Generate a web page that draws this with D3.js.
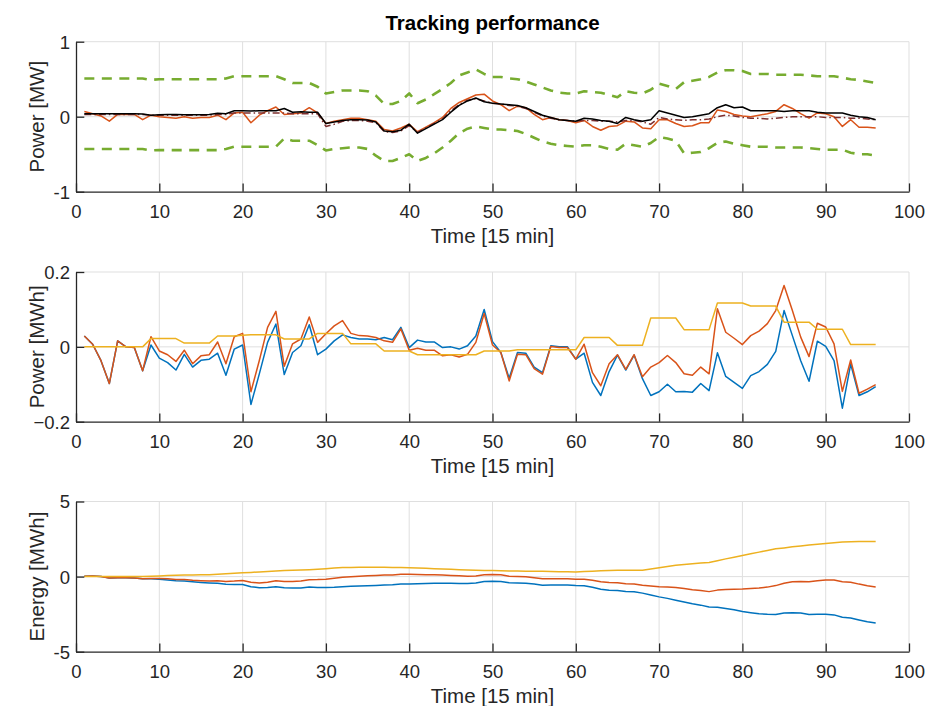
<!DOCTYPE html>
<html>
<head>
<meta charset="utf-8">
<script src="https://cdnjs.cloudflare.com/ajax/libs/d3/7.8.5/d3.min.js"></script>
<style>
  html, body { margin: 0; padding: 0; background: #fff; }
  svg { display: block; font-family: "Liberation Sans", Arial, Helvetica, sans-serif; }
</style>
</head>
<body>
<svg id="chart" width="927" height="706"></svg>
<script>
// Time steps (15-minute intervals)
const steps = d3.range(1, 97);
const xTicks = d3.range(0, 101, 10);

// Top panel: power tracking [MW]
const powerUpper = [
  0.51, 0.51, 0.51, 0.51, 0.51, 0.51, 0.51, 0.51, 0.49, 0.50,
  0.50, 0.50, 0.50, 0.50, 0.50, 0.50, 0.50, 0.51, 0.54, 0.54,
  0.54, 0.54, 0.54, 0.54, 0.50, 0.45, 0.45, 0.45, 0.40, 0.31,
  0.33, 0.35, 0.35, 0.35, 0.34, 0.28, 0.17, 0.17, 0.21, 0.31,
  0.18, 0.23, 0.30, 0.37, 0.45, 0.55, 0.59, 0.63, 0.57, 0.53,
  0.53, 0.51, 0.50, 0.47, 0.43, 0.39, 0.35, 0.32, 0.31, 0.31,
  0.34, 0.33, 0.32, 0.29, 0.26, 0.34, 0.32, 0.31, 0.36, 0.44,
  0.41, 0.37, 0.46, 0.48, 0.50, 0.53, 0.59, 0.62, 0.62, 0.61,
  0.57, 0.57, 0.57, 0.56, 0.56, 0.56, 0.56, 0.55, 0.54, 0.54,
  0.54, 0.52, 0.50, 0.49, 0.47, 0.45
];
const powerLower = [
  -0.43, -0.43, -0.43, -0.43, -0.43, -0.43, -0.43, -0.43, -0.45, -0.445,
  -0.445, -0.445, -0.445, -0.445, -0.445, -0.445, -0.445, -0.43, -0.40, -0.40,
  -0.40, -0.40, -0.40, -0.40, -0.29, -0.32, -0.32, -0.32, -0.38, -0.45,
  -0.43, -0.42, -0.41, -0.41, -0.43, -0.52, -0.59, -0.59, -0.55, -0.50,
  -0.59, -0.55, -0.49, -0.41, -0.32, -0.22, -0.16, -0.13, -0.15, -0.17,
  -0.17, -0.18, -0.19, -0.23, -0.28, -0.33, -0.36, -0.38, -0.39, -0.40,
  -0.38, -0.38, -0.40, -0.43, -0.44, -0.36, -0.38, -0.40, -0.35, -0.27,
  -0.29, -0.32, -0.49, -0.48, -0.47, -0.42, -0.35, -0.33, -0.36, -0.38,
  -0.40, -0.40, -0.40, -0.41, -0.41, -0.41, -0.41, -0.42, -0.43, -0.44,
  -0.44, -0.44, -0.48, -0.50, -0.50, -0.52
];
const powerDelivered = [
  0.07, 0.04, 0.01, -0.06, 0.03, 0.03, 0.03, -0.04, 0.02, 0.00,
  -0.01, -0.02, 0.00, -0.02, -0.01, -0.01, 0.02, -0.04, 0.05, 0.06,
  -0.08, 0.02, 0.08, 0.13, 0.03, 0.04, 0.05, 0.12, 0.05, -0.09,
  -0.06, -0.04, -0.02, -0.02, -0.04, -0.06, -0.17, -0.19, -0.15, -0.10,
  -0.20, -0.14, -0.08, -0.01, 0.11, 0.19, 0.24, 0.29, 0.30, 0.21,
  0.16, 0.08, 0.14, 0.12, 0.03, -0.04, -0.01, -0.04, -0.05, -0.08,
  -0.05, -0.13, -0.18, -0.13, -0.12, -0.06, -0.07, -0.15, -0.16, -0.04,
  -0.04, -0.09, -0.13, -0.12, -0.08, -0.08, 0.09, 0.07, 0.03, 0.01,
  0.00, 0.02, 0.04, 0.07, 0.16, 0.11, 0.04, -0.02, 0.05, 0.04,
  0.00, -0.13, -0.04, -0.14, -0.14, -0.15
];
const powerForecast = [
  0.03, 0.03, 0.03, 0.03, 0.03, 0.03, 0.03, 0.03, 0.02, 0.02,
  0.02, 0.02, 0.02, 0.02, 0.02, 0.02, 0.03, 0.03, 0.05, 0.05,
  0.05, 0.05, 0.05, 0.05, 0.05, 0.04, 0.04, 0.04, 0.04, -0.13,
  -0.10, -0.06, -0.05, -0.05, -0.06, -0.08, -0.20, -0.21, -0.19, -0.12,
  -0.21, -0.15, -0.09, -0.03, 0.08, 0.16, 0.22, 0.24, 0.21, 0.18,
  0.17, 0.15, 0.14, 0.11, 0.06, 0.01, -0.02, -0.04, -0.05, -0.06,
  -0.05, -0.05, -0.06, -0.06, -0.07, -0.05, -0.05, -0.07, -0.10, -0.01,
  -0.03, -0.04, -0.05, -0.04, -0.04, -0.03, 0.00, 0.02, 0.01, -0.01,
  -0.02, -0.02, -0.03, -0.02, -0.01, 0.00, 0.00, 0.00, 0.00, -0.01,
  -0.01, -0.01, -0.02, -0.02, -0.03, -0.04
];
const powerReference = [
  0.04, 0.04, 0.04, 0.04, 0.04, 0.04, 0.04, 0.035, 0.02, 0.025,
  0.03, 0.03, 0.025, 0.025, 0.025, 0.03, 0.045, 0.04, 0.08, 0.08,
  0.075, 0.08, 0.08, 0.08, 0.11, 0.06, 0.065, 0.06, 0.06, -0.09,
  -0.07, -0.05, -0.04, -0.04, -0.045, -0.07, -0.19, -0.20, -0.18, -0.10,
  -0.22, -0.16, -0.10, -0.04, 0.06, 0.15, 0.21, 0.25, 0.20, 0.18,
  0.17, 0.16, 0.15, 0.12, 0.07, 0.02, -0.01, -0.04, -0.05, -0.06,
  -0.02, -0.03, -0.05, -0.06, -0.09, -0.01, -0.04, -0.06, -0.04, 0.08,
  0.05, 0.02, -0.01, 0.00, 0.02, 0.04, 0.12, 0.16, 0.12, 0.13,
  0.08, 0.08, 0.08, 0.08, 0.07, 0.08, 0.08, 0.08, 0.06, 0.05,
  0.05, 0.05, 0.02, 0.00, -0.01, -0.04
];

// Middle panel: per-interval deviation [MWh]
const devBlue = [
  0.029, 0.007, -0.037, -0.098, 0.016, 0.000, -0.002, -0.064, 0.005, -0.030,
  -0.042, -0.062, -0.020, -0.054, -0.036, -0.033, -0.017, -0.076, -0.006, 0.005,
  -0.154, -0.073, 0.012, 0.061, -0.074, -0.015, 0.003, 0.059, -0.021, -0.006,
  0.016, 0.032, 0.025, 0.021, 0.021, 0.019, 0.025, 0.019, 0.052, -0.002,
  0.018, 0.013, 0.013, -0.002, 0.000, -0.006, 0.003, 0.029, 0.100, 0.014,
  -0.015, -0.084, -0.015, -0.017, -0.054, -0.069, 0.003, 0.000, 0.000, -0.033,
  -0.017, -0.095, -0.130, -0.066, -0.022, -0.062, -0.022, -0.085, -0.130, -0.120,
  -0.100, -0.120, -0.119, -0.121, -0.098, -0.117, -0.016, -0.079, -0.095, -0.111,
  -0.077, -0.066, -0.047, -0.012, 0.097, 0.030, -0.037, -0.092, 0.015, 0.001,
  -0.037, -0.164, -0.046, -0.130, -0.120, -0.106
];
const devOrange = [
  0.029, 0.007, -0.037, -0.098, 0.016, 0.000, -0.002, -0.064, 0.027, -0.011,
  -0.021, -0.039, -0.009, -0.045, -0.024, -0.021, 0.013, -0.045, 0.027, 0.036,
  -0.120, -0.037, 0.052, 0.095, -0.052, 0.008, 0.021, 0.080, 0.012, 0.035,
  0.056, 0.070, 0.036, 0.030, 0.029, 0.025, 0.016, 0.012, 0.048, -0.009,
  -0.004, -0.009, -0.009, -0.024, -0.021, -0.027, -0.020, 0.012, 0.089, 0.005,
  -0.015, -0.091, -0.020, -0.021, -0.058, -0.073, 0.001, -0.002, -0.002, -0.033,
  0.007, -0.069, -0.104, -0.045, -0.021, -0.060, -0.021, -0.080, -0.054, -0.042,
  -0.023, -0.042, -0.072, -0.076, -0.054, -0.072, 0.102, 0.039, 0.023, 0.006,
  0.030, 0.042, 0.062, 0.097, 0.164, 0.097, 0.026, -0.026, 0.063, 0.053,
  0.008, -0.119, -0.035, -0.124, -0.113, -0.101
];
const devYellow = [
  0, 0, 0, 0, 0, 0, 0, 0, 0.022, 0.022,
  0.022, 0.022, 0.010, 0.010, 0.010, 0.010, 0.029, 0.029, 0.029, 0.031,
  0.032, 0.032, 0.032, 0.032, 0.021, 0.021, 0.021, 0.021, 0.036, 0.036,
  0.036, 0.036, 0.008, 0.008, 0.008, 0.008, -0.011, -0.011, -0.011, -0.011,
  -0.021, -0.021, -0.021, -0.021, -0.021, -0.021, -0.021, -0.021, -0.011, -0.011,
  -0.011, -0.011, -0.008, -0.008, -0.008, -0.008, -0.008, -0.008, -0.008, -0.008,
  0.025, 0.025, 0.025, 0.025, 0.004, 0.004, 0.004, 0.004, 0.077, 0.077,
  0.077, 0.077, 0.046, 0.046, 0.046, 0.046, 0.117, 0.117, 0.117, 0.117,
  0.109, 0.109, 0.109, 0.109, 0.066, 0.066, 0.066, 0.066, 0.047, 0.047,
  0.047, 0.047, 0.006, 0.006, 0.006, 0.006
];

// Bottom panel: accumulated energy [MWh]
const energyBlue = [
  0.03, 0.04, 0.00, -0.10, -0.08, -0.08, -0.09, -0.15, -0.14, -0.17,
  -0.22, -0.28, -0.30, -0.35, -0.39, -0.42, -0.44, -0.51, -0.52, -0.52,
  -0.67, -0.74, -0.73, -0.67, -0.74, -0.76, -0.76, -0.70, -0.72, -0.72,
  -0.71, -0.68, -0.65, -0.63, -0.61, -0.59, -0.56, -0.55, -0.49, -0.50,
  -0.48, -0.46, -0.45, -0.45, -0.45, -0.46, -0.46, -0.43, -0.33, -0.31,
  -0.33, -0.41, -0.43, -0.44, -0.50, -0.57, -0.56, -0.56, -0.56, -0.60,
  -0.61, -0.71, -0.84, -0.91, -0.93, -0.99, -1.01, -1.10, -1.23, -1.35,
  -1.45, -1.57, -1.69, -1.81, -1.90, -2.02, -2.04, -2.12, -2.21, -2.32,
  -2.40, -2.47, -2.51, -2.52, -2.43, -2.40, -2.43, -2.53, -2.51, -2.51,
  -2.55, -2.71, -2.76, -2.89, -3.01, -3.09
];
const energyOrange = [
  0.03, 0.04, 0.00, -0.10, -0.08, -0.08, -0.09, -0.15, -0.12, -0.13,
  -0.15, -0.19, -0.20, -0.25, -0.27, -0.29, -0.28, -0.32, -0.30, -0.26,
  -0.38, -0.42, -0.37, -0.27, -0.32, -0.32, -0.29, -0.21, -0.20, -0.17,
  -0.11, -0.04, -0.01, 0.03, 0.05, 0.08, 0.10, 0.11, 0.16, 0.15,
  0.14, 0.13, 0.12, 0.10, 0.08, 0.05, 0.03, 0.04, 0.13, 0.14,
  0.12, 0.03, 0.01, -0.01, -0.07, -0.14, -0.14, -0.14, -0.14, -0.18,
  -0.17, -0.24, -0.34, -0.39, -0.41, -0.47, -0.49, -0.57, -0.62, -0.67,
  -0.69, -0.73, -0.80, -0.88, -0.93, -1.00, -0.90, -0.86, -0.84, -0.83,
  -0.80, -0.76, -0.70, -0.60, -0.44, -0.34, -0.32, -0.34, -0.28, -0.23,
  -0.22, -0.34, -0.37, -0.50, -0.61, -0.69
];
const energyYellow = [
  0, 0, 0, 0, 0, 0, 0, 0, 0.02, 0.04,
  0.07, 0.09, 0.10, 0.11, 0.12, 0.13, 0.16, 0.19, 0.22, 0.25,
  0.28, 0.31, 0.34, 0.37, 0.40, 0.42, 0.44, 0.46, 0.49, 0.53,
  0.57, 0.60, 0.61, 0.62, 0.63, 0.63, 0.62, 0.61, 0.60, 0.59,
  0.57, 0.55, 0.53, 0.51, 0.49, 0.46, 0.44, 0.42, 0.41, 0.40,
  0.39, 0.38, 0.37, 0.36, 0.35, 0.35, 0.34, 0.33, 0.32, 0.31,
  0.34, 0.36, 0.39, 0.41, 0.42, 0.42, 0.43, 0.43, 0.51, 0.59,
  0.67, 0.75, 0.80, 0.85, 0.90, 0.94, 1.06, 1.18, 1.29, 1.41,
  1.52, 1.63, 1.74, 1.85, 1.91, 1.98, 2.04, 2.11, 2.16, 2.21,
  2.26, 2.31, 2.32, 2.33, 2.34, 2.34
];

const C = {
  blue: "#0072BD", orange: "#D95319", yellow: "#EDB120",
  green: "#77AC30", black: "#000000", maroon: "#7E2F2F",
  axis: "#262626", grid: "#dfdfdf"
};

const svg = d3.select("#chart");
const left = 76, right = 909;
const x = d3.scaleLinear().domain([0, 100]).range([left, right]);

const panels = [
  {
    top: 41.7, bottom: 191.7, domain: [-1, 1], ticks: [-1, 0, 1],
    fmt: d => String(d), ylabel: "Power [MW]",
    series: [
      { data: powerUpper, color: C.green, width: 2.6, dash: "10,7.5" },
      { data: powerLower, color: C.green, width: 2.6, dash: "10,7.5" },
      { data: powerDelivered, color: C.orange, width: 1.5 },
      { data: powerForecast, color: C.maroon, width: 1.5, dash: "7,3,1.5,3" },
      { data: powerReference, color: C.black, width: 1.5 }
    ]
  },
  {
    top: 272, bottom: 421.7, domain: [-0.2, 0.2], ticks: [-0.2, 0, 0.2],
    fmt: d => d === 0 ? "0" : d3.format(".1f")(d), ylabel: "Power [MWh]",
    series: [
      { data: devBlue, color: C.blue, width: 1.5 },
      { data: devOrange, color: C.orange, width: 1.5 },
      { data: devYellow, color: C.yellow, width: 1.5 }
    ]
  },
  {
    top: 501.5, bottom: 651.7, domain: [-5, 5], ticks: [-5, 0, 5],
    fmt: d => String(d), ylabel: "Energy [MWh]",
    series: [
      { data: energyBlue, color: C.blue, width: 1.5 },
      { data: energyOrange, color: C.orange, width: 1.5 },
      { data: energyYellow, color: C.yellow, width: 1.5 }
    ]
  }
];

const tickFont = 18.5, labelFont = 20.5, tickLen = 8.3;

panels.forEach(p => {
  const y = d3.scaleLinear().domain(p.domain).range([p.bottom, p.top]);
  const g = svg.append("g");

  // grid
  g.append("g").selectAll("line").data(xTicks.filter(d => d > 0)).join("line")
    .attr("x1", d => x(d)).attr("x2", d => x(d))
    .attr("y1", p.top).attr("y2", p.bottom)
    .attr("stroke", C.grid).attr("stroke-width", 1);
  g.append("g").selectAll("line").data(p.ticks.filter(d => d > p.domain[0])).join("line")
    .attr("x1", left).attr("x2", right)
    .attr("y1", d => y(d)).attr("y2", d => y(d))
    .attr("stroke", C.grid).attr("stroke-width", 1);

  // data lines
  const line = d3.line().x((d, i) => x(steps[i])).y(d => y(d));
  p.series.forEach(s => {
    g.append("path").datum(s.data)
      .attr("d", line)
      .attr("fill", "none")
      .attr("stroke", s.color)
      .attr("stroke-width", s.width)
      .attr("stroke-linejoin", "round")
      .attr("stroke-dasharray", s.dash || null);
  });

  // x axis
  const xAxis = d3.axisBottom(x).tickValues(xTicks).tickSize(0).tickPadding(0)
    .tickFormat(d => String(d));
  const gx = g.append("g").attr("transform", `translate(0,${p.bottom})`).call(xAxis);
  gx.select(".domain").attr("stroke", C.axis).attr("stroke-width", 1.3);
  gx.selectAll(".tick line").remove();
  gx.selectAll(".tick").append("line")
    .attr("y1", 0).attr("y2", -tickLen)
    .attr("stroke", C.axis).attr("stroke-width", 1.3);
  gx.selectAll(".tick text")
    .attr("y", 26.3).attr("dy", null)
    .attr("fill", C.axis).attr("font-size", tickFont)
    .attr("font-family", "Liberation Sans, Arial, sans-serif");

  // y axis
  const yAxis = d3.axisLeft(y).tickValues(p.ticks).tickSize(0).tickPadding(0)
    .tickFormat(p.fmt);
  const gy = g.append("g").attr("transform", `translate(${left},0)`).call(yAxis);
  gy.select(".domain").attr("stroke", C.axis).attr("stroke-width", 1.3);
  gy.selectAll(".tick line").remove();
  gy.selectAll(".tick").append("line")
    .attr("x1", 0).attr("x2", tickLen)
    .attr("stroke", C.axis).attr("stroke-width", 1.3);
  gy.selectAll(".tick text")
    .attr("x", -6).attr("dy", "0.35em")
    .attr("fill", C.axis).attr("font-size", tickFont)
    .attr("font-family", "Liberation Sans, Arial, sans-serif");

  // axis labels
  g.append("text")
    .attr("x", (left + right) / 2).attr("y", p.bottom + 51.5)
    .attr("text-anchor", "middle")
    .attr("font-size", labelFont).attr("fill", C.axis)
    .text("Time [15 min]");
  g.append("text")
    .attr("transform", `translate(37,${(p.top + p.bottom) / 2}) rotate(-90)`)
    .attr("text-anchor", "middle").attr("dy", "0.35em")
    .attr("font-size", labelFont).attr("fill", C.axis)
    .text(p.ylabel);
});

svg.append("text")
  .attr("x", (left + right) / 2).attr("y", 29.5)
  .attr("text-anchor", "middle")
  .attr("font-size", labelFont).attr("font-weight", "bold").attr("fill", "#000")
  .text("Tracking performance");
</script>
</body>
</html>
